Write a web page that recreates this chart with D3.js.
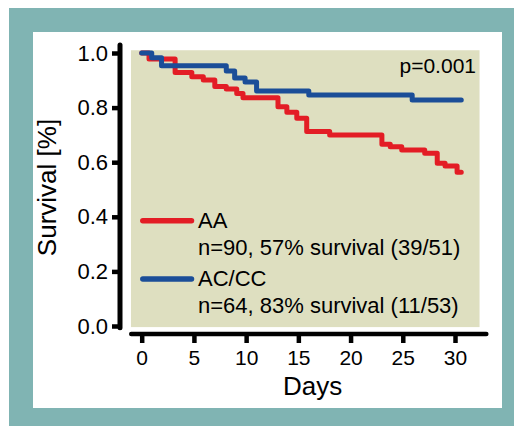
<!DOCTYPE html>
<html>
<head>
<meta charset="utf-8">
<script src="https://cdn.jsdelivr.net/npm/d3@7"></script>
<style>
  html, body { margin: 0; padding: 0; background: #ffffff; }
  svg { display: block; }
  text { font-family: "Liberation Sans", Arial, Helvetica, sans-serif; fill: #000; }
</style>
</head>
<body>
<svg id="chart" width="514" height="426"></svg>
<script>
// ---- data ----
const xTicks = [0, 5, 10, 15, 20, 25, 30];
const yTicks = [0, 0.2, 0.4, 0.6, 0.8, 1.0];
const yTickLabels = ["0.0", "0.2", "0.4", "0.6", "0.8", "1.0"];

const aaDays = [0, 0.7, 3.2, 4.8, 5.9, 7.0, 8.1, 9.1, 9.7, 13.05, 13.9, 14.85, 15.8, 18.0, 23.0, 23.8, 24.9, 27.1, 28.3, 29.05, 30.2, 30.6];
const aaSurv = [1.0, 0.978, 0.929, 0.913, 0.901, 0.877, 0.868, 0.852, 0.836, 0.803, 0.783, 0.761, 0.712, 0.700, 0.666, 0.657, 0.645, 0.633, 0.596, 0.586, 0.563, 0.563];

const acDays = [0, 0.96, 1.9, 8.1, 8.9, 9.9, 11.0, 16.0, 25.9, 30.6];
const acSurv = [1.0, 0.983, 0.953, 0.934, 0.908, 0.894, 0.861, 0.846, 0.828, 0.828];

const seriesNames = ["AA", "AC/CC"];
const seriesNotes = ["n=90, 57% survival (39/51)", "n=64, 83% survival (11/53)"];
const pValue = "p=0.001";

// ---- drawing ----
const RED = "#e31d25", BLUE = "#1b4e98", TEAL = "#80b4b3", KHAKI = "#dedfc0";
const svg = d3.select("#chart");

// frame
svg.append("rect").attr("x", 9).attr("y", 8).attr("width", 505).attr("height", 418).attr("fill", TEAL);
svg.append("rect").attr("x", 33).attr("y", 32).attr("width", 469).attr("height", 376).attr("fill", "#ffffff");

const x = d3.scaleLinear().domain([0, 30]).range([141.7, 455]);
const y = d3.scaleLinear().domain([0, 1]).range([326, 53]);

// plot background
svg.append("rect")
  .attr("x", x(-1.03)).attr("y", y(1.0101))
  .attr("width", x(32.35) - x(-1.03)).attr("height", y(-0.004) - y(1.0101))
  .attr("fill", KHAKI);

// curves
const line = d3.line().curve(d3.curveStepAfter).x(d => x(d[0])).y(d => y(d[1]));
const aaPts = aaDays.map((d, i) => [d, aaSurv[i]]);
const acPts = acDays.map((d, i) => [d, acSurv[i]]);

svg.append("path").datum(aaPts).attr("d", line)
  .attr("fill", "none").attr("stroke", RED).attr("stroke-width", 5)
  .attr("stroke-linecap", "round").attr("stroke-linejoin", "round");
svg.append("path").datum(acPts).attr("d", line)
  .attr("fill", "none").attr("stroke", BLUE).attr("stroke-width", 5)
  .attr("stroke-linecap", "round").attr("stroke-linejoin", "round");

// y axis
const yAxisX = 120;
const yAxis = d3.axisLeft(y).tickValues(yTicks).tickFormat((d, i) => yTickLabels[i]).tickSize(8).tickPadding(4);
const gy = svg.append("g").attr("transform", `translate(${yAxisX},0)`).call(yAxis);
gy.select(".domain").remove();
gy.selectAll(".tick line").attr("stroke", "#000").attr("stroke-width", 4.5);
gy.selectAll(".tick text").attr("font-size", 22).attr("font-family", "Liberation Sans, Arial, sans-serif").attr("fill", "#000");
svg.append("line").attr("x1", yAxisX).attr("x2", yAxisX).attr("y1", y(1.0293)).attr("y2", y(-0.006))
  .attr("stroke", "#000").attr("stroke-width", 5).attr("stroke-linecap", "round");

// x axis
const xAxisY = 334;
const xAxis = d3.axisBottom(x).tickValues(xTicks).tickSize(9).tickPadding(7);
const gx = svg.append("g").attr("transform", `translate(0,${xAxisY})`).call(xAxis);
gx.select(".domain").remove();
gx.selectAll(".tick line").attr("stroke", "#000").attr("stroke-width", 4.5);
gx.selectAll(".tick text").attr("font-size", 21).attr("font-family", "Liberation Sans, Arial, sans-serif").attr("fill", "#000");
svg.append("line").attr("y1", xAxisY).attr("y2", xAxisY).attr("x1", x(-1.0)).attr("x2", x(33.0))
  .attr("stroke", "#000").attr("stroke-width", 4.5).attr("stroke-linecap", "round");

// axis titles
svg.append("text").attr("x", 312.7).attr("y", 395).attr("text-anchor", "middle")
  .attr("font-size", 26).text("Days");
svg.append("text").attr("transform", "translate(55.5,187.5) rotate(-90)").attr("text-anchor", "middle")
  .attr("font-size", 26).text("Survival [%]");

// p-value
svg.append("text").attr("x", 476).attr("y", 73.3).attr("text-anchor", "end")
  .attr("font-size", 21).text(pValue);

// legend
const legColors = [RED, BLUE];
const legLineY = [220.7, 279];
const legNameY = [228, 285.7];
const legNoteY = [255, 313.3];
seriesNames.forEach((name, i) => {
  svg.append("line").attr("x1", 142.8).attr("x2", 191.5).attr("y1", legLineY[i]).attr("y2", legLineY[i])
    .attr("stroke", legColors[i]).attr("stroke-width", 5.5).attr("stroke-linecap", "round");
  svg.append("text").attr("x", 198).attr("y", legNameY[i]).attr("font-size", 22).text(name);
  svg.append("text").attr("x", 198).attr("y", legNoteY[i]).attr("font-size", 22).text(seriesNotes[i]);
});
</script>
</body>
</html>
